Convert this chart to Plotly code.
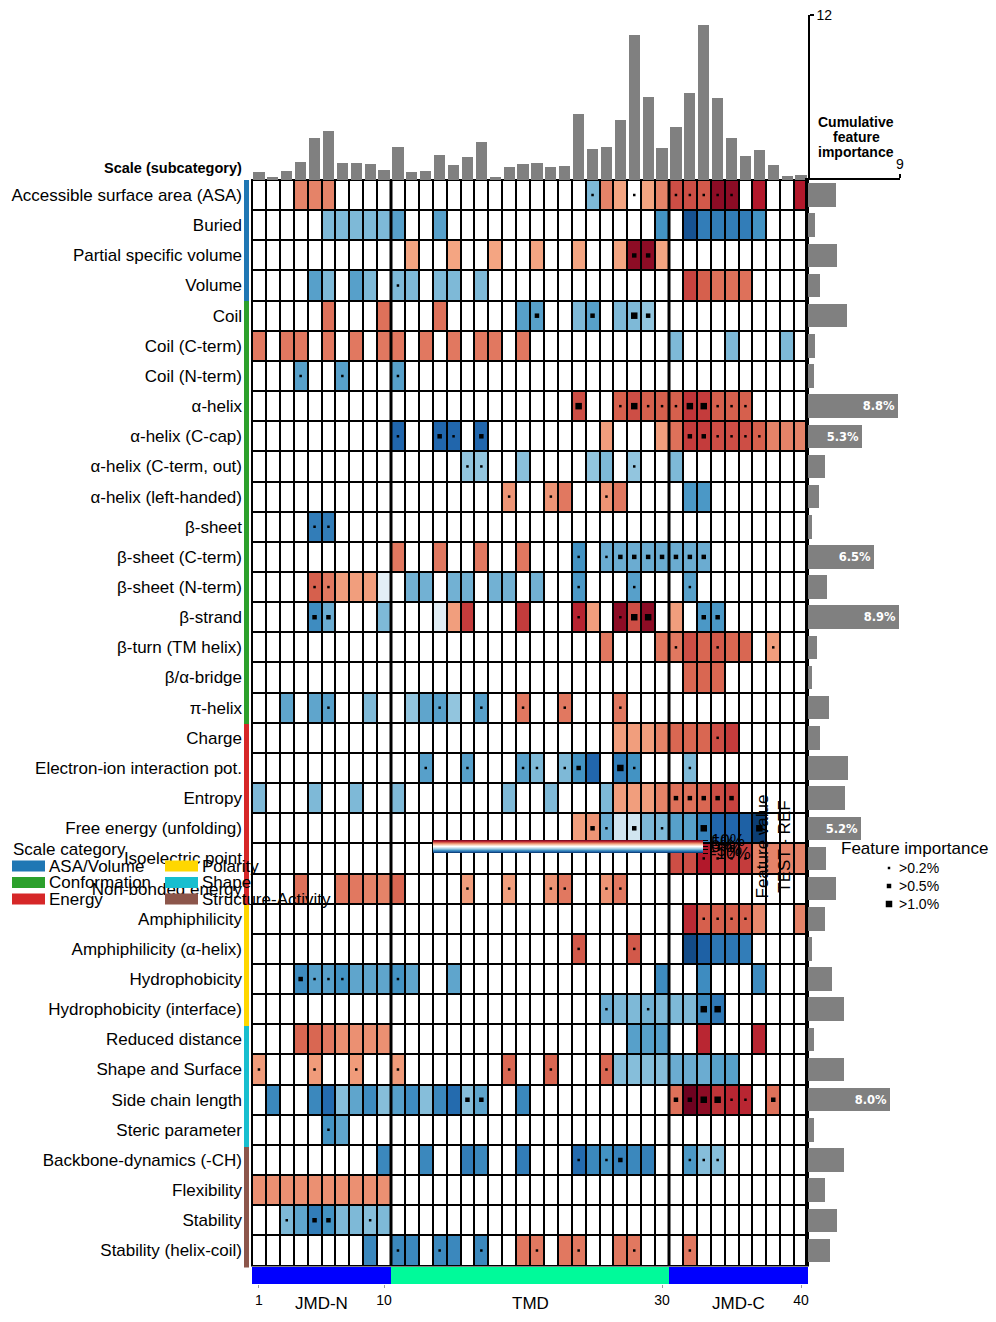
import plotly.graph_objects as go

W, H = 996, 1322

# ---------------- data ----------------
SCALES = [
    "Accessible surface area (ASA)", "Buried", "Partial specific volume", "Volume",
    "Coil", "Coil (C-term)", "Coil (N-term)", "α-helix", "α-helix (C-cap)",
    "α-helix (C-term, out)", "α-helix (left-handed)", "β-sheet", "β-sheet (C-term)",
    "β-sheet (N-term)", "β-strand", "β-turn (TM helix)", "β/α-bridge", "π-helix",
    "Charge", "Electron-ion interaction pot.", "Entropy", "Free energy (unfolding)",
    "Isoelectric point", "Non-bonded energy",
    "Amphiphilicity", "Amphiphilicity (α-helix)", "Hydrophobicity", "Hydrophobicity (interface)",
    "Reduced distance", "Shape and Surface", "Side chain length", "Steric parameter",
    "Backbone-dynamics (-CH)", "Flexibility", "Stability", "Stability (helix-coil)",
]
CATEGORIES = ["ASA/Volume", "Conformation", "Energy", "Polarity", "Shape", "Structure-Activity"]
CATEGORY_COLORS = ["#1f77b4", "#2ca02c", "#d62728", "#ffd700", "#17becf", "#8c564b"]
CATEGORY_SIZES = [4, 14, 6, 4, 4, 4]

POSITIONS = list(range(1, 41))
POSITION_IMPORTANCE = [0.58, 0.22, 0.65, 1.30, 3.04, 3.54, 1.23, 1.23, 1.16, 0.72,
                       2.39, 0.58, 0.65, 1.81, 1.08, 1.66, 2.75, 0.22, 0.94, 1.16,
                       1.23, 0.94, 1.01, 4.77, 2.24, 2.39, 4.34, 10.55, 6.07, 2.31,
                       3.83, 6.36, 11.28, 6.00, 3.04, 1.73, 2.17, 1.08, 0.29, 0.36]
SCALE_IMPORTANCE = [2.75, 0.71, 2.85, 1.13, 3.85, 0.71, 0.61, 8.8, 5.3, 1.62,
                    1.04, 0.42, 6.5, 1.81, 8.9, 0.91, 0.42, 2.10, 1.13, 3.95,
                    3.66, 5.2, 1.72, 2.78, 1.62, 0.42, 2.39, 3.56, 0.61, 3.56,
                    8.0, 0.55, 3.56, 1.62, 2.88, 2.20]

# feature value (TEST - REF, %) per scale: {position: value}
FEATURE_VALUES = [
    {4: 5, 5: 5, 6: 5, 25: -4.5, 26: 5, 27: 4, 29: 4, 30: 5, 31: 6.5, 32: 6.5, 33: 6.2, 34: 9, 35: 9, 37: 8, 40: 8},
    {6: -4.5, 7: -4.5, 8: -4.5, 9: -4.5, 10: -4.5, 11: -5.5, 14: -5.5, 30: -6, 32: -8.7, 33: -7, 34: -7, 35: -7, 36: -7, 37: -6},
    {12: 4, 15: 4, 18: 4, 21: 4, 24: 4, 27: 4, 28: 9, 29: 9, 30: 4},
    {5: -5.5, 6: -4.5, 8: -5.5, 9: -4.5, 11: -4.5, 12: -4.5, 14: -4.5, 15: -4.5, 17: -4.5, 32: 6.8, 33: 6, 34: 5.5, 35: 5.5, 36: 5.5},
    {6: 5.5, 10: 5.5, 14: 5.5, 20: -5.5, 21: -5.5, 24: -4.5, 25: -5.5, 27: -4.5, 28: -4.5, 29: -4},
    {1: 5.3, 3: 5.3, 4: 5.3, 6: 5.3, 8: 5.3, 10: 5.3, 11: 5.3, 13: 5.3, 15: 5.3, 17: 5.3, 18: 5.3, 20: 5.3, 31: -4.5, 35: -4.5, 39: -4.5},
    {4: -5.5, 7: -5.5, 11: -5.5},
    {24: 6.5, 27: 6, 28: 6.5, 29: 6, 30: 6, 31: 6, 32: 7.2, 33: 7, 34: 6, 35: 6, 36: 6},
    {11: -8, 14: -8, 15: -8, 17: -8, 26: 4.2, 30: 4.2, 31: 5.5, 32: 7, 33: 7, 34: 6.5, 35: 6.5, 36: 6.5, 37: 6, 38: 5, 39: 5, 40: 5},
    {16: -4, 17: -4, 20: -4.2, 25: -4, 26: -4.5, 28: -4, 31: -4.5},
    {19: 4.5, 22: 4.5, 23: 5.3, 26: 4.5, 27: 5.3, 32: -5.8, 33: -5.8},
    {5: -7, 6: -7},
    {11: 5.3, 14: 5.3, 17: 5.3, 20: 5.3, 24: -6, 26: -5, 27: -5, 28: -5, 29: -5, 30: -5, 31: -5, 32: -5, 33: -5},
    {5: 6, 6: 5.3, 7: 4.2, 8: 4.2, 9: 4.2, 10: -1.2, 12: -4.8, 13: -4.8, 15: -4.8, 16: -4.8, 18: -4.8, 19: -4.8, 21: -4.8, 24: -5.8, 28: -5.5, 32: -5.5},
    {5: -6.3, 6: -5, 10: -4.5, 14: -1.3, 15: 4.2, 16: 7, 20: 7, 24: 7.7, 25: 4.2, 27: 9, 28: 6.5, 29: 9, 31: 4.2, 33: -5.8, 34: -5.8},
    {26: 5.3, 30: 5.3, 31: 5.3, 32: 6.5, 33: 5.8, 34: 6.2, 35: 5.8, 36: 5.8, 38: 4.2},
    {32: 5.8, 33: 5.8, 34: 5.8},
    {3: -5.3, 5: -5.3, 6: -5.5, 9: -4.5, 12: -4, 13: -5.3, 14: -5.5, 15: -4, 17: -5.5, 20: 5.3, 23: 5.3, 27: 5.3},
    {27: 4.2, 28: 4.2, 29: 4.2, 30: 5, 31: 5.8, 32: 5.8, 33: 5.8, 34: 6.5, 35: 7},
    {13: -5.5, 16: -5.5, 20: -5.5, 21: -4.5, 23: -4.5, 24: -6, 25: -8, 27: -7, 28: -6, 32: -4.5},
    {1: -4.5, 5: -4.5, 8: -4.5, 11: -4.5, 19: -4.5, 22: -4.5, 26: -4.5, 27: 4.2, 28: 4.2, 29: 4.2, 30: 5, 31: 5.5, 32: 5.5, 33: 5.8, 34: 6.5, 35: 6.8},
    {24: 4.2, 25: 4.5, 26: -5, 27: -2, 28: -2, 29: -4.5, 30: -4.5, 31: -5.5, 32: -5.5, 33: -6.8, 34: -8, 35: -8, 36: -8.2, 37: -9.5},
    {31: 6.5, 32: 6.5, 33: 8, 34: 7, 35: 7, 36: 7, 37: 5, 38: 5, 39: 5, 40: 5},
    {4: 5.5, 7: 5.3, 8: 5.3, 9: 5, 10: 5, 11: 5.8, 16: 4.2, 19: 4.2, 22: 4.5, 23: 5.3, 26: 4.5, 27: 5.3},
    {32: 7.5, 33: 6, 34: 6, 35: 6, 36: 6, 37: 4.8, 40: 5},
    {24: 6.2, 28: 6.2, 32: -9, 33: -8.2, 34: -7.3, 35: -7.3, 36: -7},
    {4: -6.3, 5: -5.5, 6: -5.5, 7: -6, 8: -5.3, 9: -5.3, 10: -5.3, 11: -6, 12: -5.3, 15: -5.3, 30: -6.3, 33: -6.3, 37: -6.3},
    {26: -5, 27: -4.5, 28: -4.5, 29: -4.8, 30: -4.5, 31: -4.5, 32: -4.5, 33: -6.5, 34: -7.2},
    {4: 5.8, 5: 5.8, 6: 5.3, 7: 4.6, 8: 4.6, 9: 4.6, 10: 4.6, 28: -5.5, 29: -5.5, 30: -5.5, 33: 7.6, 37: 7.6},
    {1: 4.3, 5: 4.3, 8: 4.3, 11: 4.3, 19: 5.8, 22: 5.8, 26: 5.8, 27: -4.3, 28: -4.3, 29: -4.3, 30: -4.3, 31: -5, 32: -5, 33: -5, 34: -5.5, 35: -5.5},
    {2: -6.5, 5: -6.5, 6: -7.8, 7: -4.3, 8: -5.3, 9: -6.3, 10: -4.3, 11: -5.5, 12: -6.3, 13: -4.3, 14: -6.5, 15: -7.8, 16: -4.3, 17: -5.3, 20: -6.5,
     31: 5.5, 32: 9.8, 33: 9, 34: 7.2, 35: 7.6, 36: 7.6, 38: 5.5},
    {6: -6, 7: -5.3},
    {10: -6.5, 13: -6.5, 16: -7, 17: -6.5, 20: -7, 24: -7.8, 25: -6.5, 26: -6, 27: -6.8, 28: -6.5, 29: -6.8, 32: -5.8, 33: -4.3, 34: -4.3},
    {1: 4.6, 2: 4.6, 3: 4.6, 4: 4.6, 5: 4.6, 6: 4.6, 7: 4.6, 8: 4.6, 9: 4.6, 10: 4.6},
    {3: -4.5, 4: -5.3, 5: -7, 6: -6, 7: -4.5, 8: -4.5, 9: -4.3, 10: -4.5},
    {9: -6.5, 11: -6.5, 12: -6.5, 14: -6.5, 15: -6.5, 17: -6.5, 20: 5.3, 21: 5.3, 23: 5.3, 24: 5.3, 27: 5.3, 28: 5.3, 32: 5.3},
]

# feature importance (%) per scale: {position: importance}
FEATURE_IMPORTANCE = [
    {25: 0.3, 28: 0.3, 31: 0.3, 32: 0.3, 33: 0.3, 34: 0.3, 35: 0.3},
    {},
    {28: 0.7, 29: 0.7},
    {11: 0.3},
    {21: 0.7, 25: 0.7, 28: 1.3, 29: 0.7},
    {},
    {4: 0.3, 7: 0.3, 11: 0.3},
    {24: 1.3, 27: 0.3, 28: 1.3, 29: 0.3, 30: 0.3, 31: 0.3, 32: 1.3, 33: 1.3, 34: 0.3, 35: 0.3, 36: 0.3},
    {11: 0.3, 14: 0.7, 15: 0.3, 17: 0.7, 32: 0.7, 33: 0.7, 34: 0.3, 35: 0.3, 36: 0.3, 37: 0.3},
    {16: 0.3, 17: 0.3, 28: 0.3},
    {19: 0.3, 22: 0.3, 26: 0.3},
    {5: 0.3, 6: 0.3},
    {24: 0.3, 26: 0.3, 27: 0.7, 28: 0.7, 29: 0.7, 30: 0.7, 31: 0.7, 32: 0.7, 33: 0.7},
    {5: 0.3, 6: 0.3, 24: 0.3, 28: 0.3, 32: 0.3},
    {5: 0.7, 6: 0.7, 24: 0.3, 27: 0.3, 28: 1.3, 29: 1.3, 33: 0.7, 34: 0.7},
    {31: 0.3, 34: 0.3, 38: 0.3},
    {},
    {6: 0.3, 14: 0.3, 17: 0.3, 20: 0.3, 23: 0.3, 27: 0.3},
    {34: 0.3},
    {13: 0.3, 16: 0.3, 20: 0.3, 21: 0.3, 23: 0.3, 24: 0.7, 27: 1.3, 28: 0.3, 32: 0.3},
    {31: 0.7, 32: 0.7, 33: 0.7, 34: 0.7, 35: 0.7},
    {25: 0.7, 26: 0.3, 28: 0.7, 30: 0.3, 33: 1.3, 37: 1.3},
    {33: 0.3, 34: 0.3, 35: 0.3, 36: 0.3},
    {16: 0.3, 19: 0.3, 22: 0.3, 23: 0.3, 26: 0.3, 27: 0.3},
    {33: 0.3, 34: 0.3, 35: 0.3, 36: 0.3},
    {24: 0.3, 28: 0.3},
    {4: 0.7, 5: 0.3, 6: 0.3, 7: 0.3, 11: 0.3},
    {26: 0.3, 29: 0.3, 33: 1.3, 34: 1.3},
    {},
    {1: 0.3, 5: 0.3, 8: 0.3, 11: 0.3, 19: 0.3, 22: 0.3, 26: 0.3},
    {16: 0.7, 17: 0.7, 31: 0.7, 32: 0.7, 33: 1.3, 34: 1.3, 35: 0.3, 36: 0.3, 38: 0.7},
    {6: 0.3},
    {24: 0.3, 26: 0.3, 27: 0.7, 32: 0.3, 33: 0.3, 34: 0.3},
    {},
    {3: 0.3, 5: 0.7, 6: 0.7, 9: 0.3},
    {11: 0.3, 14: 0.3, 17: 0.3, 21: 0.3, 24: 0.3, 28: 0.3, 32: 0.3},
]

IMPORTANCE_THRESHOLDS = [0.2, 0.5, 1.0]
IMPORTANCE_LABELS = [">0.2%", ">0.5%", ">1.0%"]
IMPORTANCE_MARKER_SIZES = [2.5, 4.5, 6.5]

REGIONS = ["JMD-N", "TMD", "JMD-C"]
REGION_START = [1, 11, 31]
REGION_END = [10, 30, 40]
REGION_COLORS = ["#0000ff", "#00fa9a", "#0000ff"]
POSITION_TICKS = [1, 10, 30, 40]
COLORBAR_TICKS = [-10, -5, 0, 5, 10]

# ---------------- layout geometry (pixels) ----------------
HM_L, HM_R, HM_T, HM_B = 252, 808, 180, 1265.5
TOP_T = 15
RB_R = 900
REG_T, REG_B = 1267, 1284
STRIP_L, STRIP_R = 244, 249


def fx(p):
    return p / W


def fy(p):
    return 1 - p / H


FONT = "Liberation Sans, Arial, sans-serif"

CS = [[0.0, "rgb(5,48,97)"], [0.1, "rgb(33,102,172)"], [0.2, "rgb(67,147,195)"],
      [0.3, "rgb(146,197,222)"], [0.4, "rgb(209,229,240)"], [0.5, "rgb(255,255,255)"],
      [0.6, "rgb(253,219,199)"], [0.7, "rgb(244,165,130)"], [0.8, "rgb(214,96,77)"],
      [0.9, "rgb(178,24,43)"], [1.0, "rgb(103,0,31)"]]

n_rows = len(SCALES)
rows = list(range(n_rows))
Z = [[FEATURE_VALUES[r].get(p, 0) for p in POSITIONS] for r in rows]

row_category = []
for cat, n in zip(CATEGORIES, CATEGORY_SIZES):
    row_category += [cat] * n
row_colors = [CATEGORY_COLORS[CATEGORIES.index(c)] for c in row_category]

fig = go.Figure()

# main heatmap
fig.add_trace(go.Heatmap(
    z=Z, x=POSITIONS, y=rows, colorscale=CS, zmin=-10, zmax=10,
    xgap=2, ygap=2, hoverinfo="skip", xaxis="x", yaxis="y",
    colorbar=dict(
        orientation="v", thickness=270, thicknessmode="pixels",
        len=13, lenmode="pixels", x=fx(433), xanchor="left", xpad=0,
        y=fy(846.5), yanchor="middle", ypad=0, outlinewidth=0,
        tickmode="array", tickvals=COLORBAR_TICKS,
        ticktext=[f"{v}%" for v in COLORBAR_TICKS],
        ticks="outside", ticklen=5, tickcolor="black",
        tickfont=dict(size=17, family=FONT, color="black"),
        title=dict(text="Feature value<br>TEST - REF", side="right",
                   font=dict(size=17, family=FONT, color="black")),
    ),
))

# importance markers
for lvl, (thr, size) in enumerate(zip(IMPORTANCE_THRESHOLDS, IMPORTANCE_MARKER_SIZES)):
    upper = IMPORTANCE_THRESHOLDS[lvl + 1] if lvl + 1 < len(IMPORTANCE_THRESHOLDS) else 1e9
    xs, ys = [], []
    for r in rows:
        for p, v in FEATURE_IMPORTANCE[r].items():
            if thr < v <= upper:
                xs.append(p)
                ys.append(r)
    fig.add_trace(go.Scatter(x=xs, y=ys, mode="markers", xaxis="x", yaxis="y",
                             marker=dict(symbol="square", size=size, color="black",
                                         line=dict(width=0)),
                             hoverinfo="skip", showlegend=False))

# top bars: cumulative importance per position
fig.add_trace(go.Bar(x=POSITIONS, y=POSITION_IMPORTANCE, width=0.8,
                     marker=dict(color="#808080", line=dict(width=0)),
                     xaxis="x2", yaxis="y2", hoverinfo="skip"))

# right bars: importance per scale
fig.add_trace(go.Bar(
    y=rows, x=SCALE_IMPORTANCE, orientation="h", width=0.78,
    marker=dict(color="#808080", line=dict(width=0)),
    text=[f"<b>{v:.1f}%</b>" if v >= 5 else "" for v in SCALE_IMPORTANCE],
    textposition="inside", insidetextanchor="end", constraintext="none",
    textfont=dict(color="white", size=11.5, family="DejaVu Sans"),
    xaxis="x3", yaxis="y3", hoverinfo="skip"))

# region bar
fig.add_trace(go.Bar(
    x=[(s + e) / 2 for s, e in zip(REGION_START, REGION_END)],
    y=[1] * len(REGIONS),
    width=[e - s + 1 for s, e in zip(REGION_START, REGION_END)],
    marker=dict(color=REGION_COLORS, line=dict(width=0)),
    xaxis="x4", yaxis="y4", hoverinfo="skip"))

# category strip
fig.add_trace(go.Bar(
    y=rows, x=[1] * n_rows, orientation="h", width=1,
    marker=dict(color=row_colors, line=dict(width=0)),
    xaxis="x5", yaxis="y5", hoverinfo="skip"))

hm_xdom = [fx(HM_L), fx(HM_R)]
hm_ydom = [fy(HM_B), fy(HM_T)]
noax = dict(showgrid=False, zeroline=False, showticklabels=False, ticks="", showline=False,
            automargin=False)

fig.update_layout(
    width=W, height=H, margin=dict(l=0, r=0, t=0, b=0, pad=0, autoexpand=False),
    paper_bgcolor="white", plot_bgcolor="white", showlegend=False,
    font=dict(family=FONT, size=17, color="black"),
    bargap=0,
    xaxis=dict(domain=hm_xdom, range=[0.5, 40.5], anchor="y", **noax),
    yaxis=dict(domain=hm_ydom, range=[n_rows - 0.5, -0.5], anchor="x", automargin=False,
               tickmode="array", tickvals=rows, ticktext=SCALES, ticks="",
               showgrid=False, zeroline=False, showline=False,
               ticklabelstandoff=9, tickfont=dict(size=17, family=FONT, color="black")),
    xaxis2=dict(domain=hm_xdom, range=[0.5, 40.5], anchor="y2", **noax),
    yaxis2=dict(domain=[fy(HM_T), fy(TOP_T)], range=[0, 12], anchor="x2", side="right",
                automargin=False,
                showline=True, linecolor="black", linewidth=1.5, ticks="outside",
                ticklen=4, tickwidth=1.5, tickcolor="black", tickmode="array", tickvals=[12],
                showgrid=False, zeroline=False, tickfont=dict(size=14, family=FONT)),
    xaxis3=dict(domain=[fx(HM_R), fx(RB_R)], range=[0, 9], anchor="y3", side="top",
                automargin=False,
                showline=True, linecolor="black", linewidth=1.5, ticks="outside",
                ticklen=4, tickwidth=1.5, tickcolor="black", tickmode="array", tickvals=[9],
                showgrid=False, zeroline=False, tickfont=dict(size=14, family=FONT)),
    yaxis3=dict(domain=hm_ydom, range=[n_rows - 0.5, -0.5], anchor="x3", automargin=False,
                showline=True, linecolor="black", linewidth=2.5,
                showgrid=False, zeroline=False, showticklabels=False, ticks=""),
    xaxis4=dict(domain=hm_xdom, range=[0.5, 40.5], anchor="y4", tickmode="array",
                automargin=False,
                tickvals=POSITION_TICKS, ticks="outside", ticklen=3, tickcolor="#999999",
                showgrid=False, zeroline=False, showline=False,
                tickfont=dict(size=14, family=FONT)),
    yaxis4=dict(domain=[fy(REG_B), fy(REG_T)], range=[0, 1], anchor="x4", **noax),
    xaxis5=dict(domain=[fx(STRIP_L), fx(STRIP_R)], range=[0, 1], anchor="y5", **noax),
    yaxis5=dict(domain=[fy(HM_B + 2), fy(HM_T)], range=[n_rows - 0.5, -0.5], anchor="x5", **noax),
)

shapes = []
# black grid background under heatmap cells
shapes.append(dict(type="rect", xref="paper", yref="paper", layer="below",
                   x0=fx(HM_L - 1), x1=fx(HM_R + 1), y0=fy(HM_B + 1), y1=fy(HM_T - 1),
                   fillcolor="black", line=dict(width=0)))
# thick region separators
for s in REGION_START[1:]:
    shapes.append(dict(type="line", xref="x", yref="y", x0=s - 0.5, x1=s - 0.5,
                       y0=-0.5, y1=n_rows - 0.5, line=dict(color="black", width=3)))

annotations = []
annotations.append(dict(text="<b>Scale (subcategory)</b>", xref="paper", yref="paper",
                        x=fx(244), y=fy(168), xanchor="right", yanchor="middle",
                        showarrow=False, font=dict(size=14.5, family=FONT)))
for i, line in enumerate(["Cumulative", "feature", "importance"]):
    annotations.append(dict(text=f"<b>{line}</b>", xref="paper", yref="paper",
                            x=fx(856), y=fy(122 + 15 * i), xanchor="center", yanchor="middle",
                            showarrow=False, font=dict(size=14, family=FONT)))
for name, s, e in zip(REGIONS, REGION_START, REGION_END):
    annotations.append(dict(text=name, xref="x4", yref="paper", x=(s + e) / 2, y=fy(1303),
                            xanchor="center", yanchor="middle", showarrow=False,
                            font=dict(size=17, family=FONT)))

# scale category legend
annotations.append(dict(text="Scale category", xref="paper", yref="paper", x=fx(11), y=fy(850),
                        xanchor="left", yanchor="middle", showarrow=False,
                        font=dict(size=17, family=FONT)))
for i, (cat, col) in enumerate(zip(CATEGORIES, CATEGORY_COLORS)):
    cx = 12 + (i // 3) * 153
    cy = 866 + (i % 3) * 16.5
    shapes.append(dict(type="rect", xref="paper", yref="paper", layer="above",
                       x0=fx(cx), x1=fx(cx + 33), y0=fy(cy + 5.5), y1=fy(cy - 5.5),
                       fillcolor=col, line=dict(width=0)))
    annotations.append(dict(text=cat, xref="paper", yref="paper", x=fx(cx + 35), y=fy(cy),
                            xanchor="left", yanchor="middle", showarrow=False,
                            font=dict(size=17, family=FONT)))

# feature importance legend
annotations.append(dict(text="Feature importance", xref="paper", yref="paper", x=fx(914), y=fy(849),
                        xanchor="center", yanchor="middle", showarrow=False,
                        font=dict(size=17, family=FONT)))
for k, (lab, size) in enumerate(zip(IMPORTANCE_LABELS, IMPORTANCE_MARKER_SIZES)):
    cy = 868 + 18 * k
    half = size / 2
    shapes.append(dict(type="rect", xref="paper", yref="paper", layer="above",
                       x0=fx(889 - half), x1=fx(889 + half), y0=fy(cy + half), y1=fy(cy - half),
                       fillcolor="black", line=dict(width=0)))
    annotations.append(dict(text=lab, xref="paper", yref="paper", x=fx(897), y=fy(cy),
                            xanchor="left", yanchor="middle", showarrow=False,
                            font=dict(size=14, family=FONT)))

fig.update_layout(shapes=shapes, annotations=annotations)
fig.write_html("out.html")
